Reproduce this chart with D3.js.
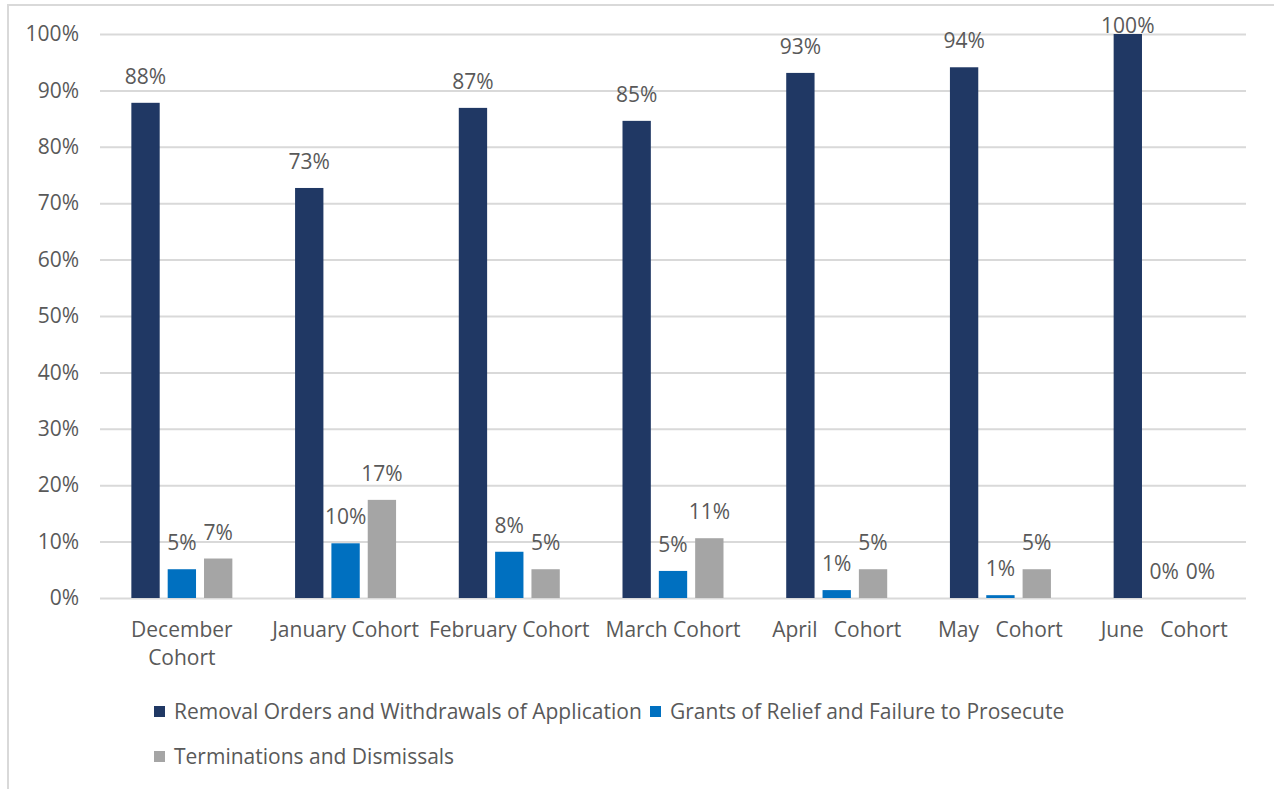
<!DOCTYPE html>
<html>
<head>
<meta charset="utf-8">
<script src="https://cdn.jsdelivr.net/npm/d3@7/dist/d3.min.js"></script>
<style>
  html, body { margin: 0; padding: 0; background: #fff; }
  svg { display: block; }
  text { font-family: "Open Sans", sans-serif; fill: #595959; }
</style>
</head>
<body>
<svg id="chart" width="1274" height="789"></svg>
<script>
// Cohorts on the category axis (extra spaces kept as the labels are laid out)
const categories = [
  "December Cohort",
  "January Cohort",
  "February Cohort",
  "March Cohort",
  "April   Cohort",
  "May   Cohort",
  "June   Cohort"
];
// Category labels that break onto two lines
const categoryLines = [
  ["December", "Cohort"],
  ["January Cohort"],
  ["February Cohort"],
  ["March Cohort"],
  ["April   Cohort"],
  ["May   Cohort"],
  ["June   Cohort"]
];

const seriesNames = [
  "Removal Orders and Withdrawals of Application",
  "Grants of Relief and Failure to Prosecute",
  "Terminations and Dismissals"
];

// Share of cases per cohort, one array per outcome
const removalOrders = [0.878, 0.727, 0.869, 0.846, 0.931, 0.941, 1.00];
const grantsOfRelief = [0.051, 0.097, 0.082, 0.048, 0.014, 0.005, 0.00];
const terminations  = [0.070, 0.174, 0.051, 0.106, 0.051, 0.051, 0.00];

const seriesValues = [removalOrders, grantsOfRelief, terminations];
const seriesColors = ["#203864", "#0070c0", "#a5a5a5"];

const yTicks = [0, 0.1, 0.2, 0.3, 0.4, 0.5, 0.6, 0.7, 0.8, 0.9, 1.0];

const svg = d3.select("#chart");

// outer frame of the chart area
svg.append("path")
  .attr("d", "M8,789 L8,5 L1274,5")
  .attr("fill", "none")
  .attr("stroke", "#d9d9d9")
  .attr("stroke-width", 2);

const plot = { left: 100, right: 1246, top: 34, bottom: 598 };

const x0 = d3.scaleBand()
  .domain(categories)
  .range([plot.left, plot.right])
  .paddingInner(0)
  .paddingOuter(0);

const groupWidth = 101;
const x1 = d3.scaleBand()
  .domain(seriesNames)
  .range([-groupWidth / 2, groupWidth / 2])
  .paddingInner(0.22)
  .paddingOuter(0);

const y = d3.scaleLinear().domain([0, 1]).range([plot.bottom, plot.top]);

// horizontal gridlines + tick labels
const yAxis = d3.axisLeft(y)
  .tickValues(yTicks)
  .tickFormat(d3.format(".0%"))
  .tickSize(-(plot.right - plot.left))
  .tickPadding(21);

const gy = svg.append("g")
  .attr("transform", `translate(${plot.left},0)`)
  .call(yAxis);
gy.select(".domain").remove();
gy.selectAll(".tick line")
  .attr("stroke", "#d9d9d9")
  .attr("stroke-width", 2);
gy.selectAll(".tick text")
  .attr("font-size", 21)
  .attr("fill", "#595959")
  .style("font-family", '"Open Sans", sans-serif');

// bars
const rows = [];
categories.forEach((c, i) => {
  seriesNames.forEach((s, j) => {
    rows.push({ cat: c, series: s, value: seriesValues[j][i], color: seriesColors[j] });
  });
});

const groups = svg.append("g");
groups.selectAll("rect")
  .data(rows)
  .join("rect")
  .attr("x", d => x0(d.cat) + x0.bandwidth() / 2 + x1(d.series))
  .attr("y", d => y(d.value))
  .attr("width", x1.bandwidth())
  .attr("height", d => y(0) - y(d.value))
  .attr("fill", d => d.color);

// value labels above each bar
const pct = d3.format(".0%");
svg.append("g")
  .selectAll("text")
  .data(rows)
  .join("text")
  .attr("x", d => x0(d.cat) + x0.bandwidth() / 2 + x1(d.series) + x1.bandwidth() / 2)
  .attr("y", d => Math.max(y(d.value) - 19, plot.top - 1))
  .attr("text-anchor", "middle")
  .attr("font-size", 21)
  .text(d => pct(d.value));

// category labels
const cx = svg.append("g");
categories.forEach((c, i) => {
  const t = cx.append("text")
    .attr("x", x0(c) + x0.bandwidth() / 2)
    .attr("y", 637)
    .attr("text-anchor", "middle")
    .attr("font-size", 21)
    .style("white-space", "pre");
  categoryLines[i].forEach((line, k) => {
    t.append("tspan")
      .attr("x", x0(c) + x0.bandwidth() / 2)
      .attr("dy", k === 0 ? 0 : 28)
      .text(line);
  });
});

// legend
const legendItems = [
  { name: seriesNames[0], color: seriesColors[0], x: 154, y: 712 },
  { name: seriesNames[1], color: seriesColors[1], x: 650, y: 712 },
  { name: seriesNames[2], color: seriesColors[2], x: 154, y: 757 }
];
const lg = svg.append("g");
legendItems.forEach(it => {
  lg.append("rect")
    .attr("x", it.x)
    .attr("y", it.y - 6)
    .attr("width", 11)
    .attr("height", 11)
    .attr("fill", it.color);
  lg.append("text")
    .attr("x", it.x + 20)
    .attr("y", it.y + 7)
    .attr("font-size", 21)
    .text(it.name);
});
</script>
</body>
</html>
